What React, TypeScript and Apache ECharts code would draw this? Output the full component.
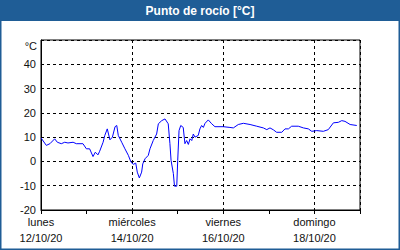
import React, { useEffect, useRef } from "react";
import * as echarts from "echarts";

// hours since Mon 12/10/20 00:00
const hours = [0, 2.8, 4.7, 7.2, 8.6, 10.7, 12.5, 14.2, 16.9, 18.6, 22.1, 23.9, 25.6, 27.4, 28.6, 30.0, 30.9, 32.7, 33.6, 34.9, 36.3, 37.6, 39.0, 39.9, 40.7, 42.5, 44.2, 46.0, 47.4, 48.6, 49.9, 50.7, 51.8, 53.0, 53.6, 54.8, 56.5, 57.4, 59.1, 60.9, 61.8, 63.6, 65.3, 67.0, 67.9, 68.5, 69.7, 70.3, 71.5, 72.0, 72.7, 73.6, 74.9, 75.8, 76.7, 77.6, 78.5, 79.4, 80.2, 81.1, 82.8, 83.7, 84.6, 85.5, 86.4, 88.1, 89.9, 91.6, 96.0, 99.5, 101.3, 103.9, 106.6, 110.1, 113.6, 117.1, 118.9, 120.6, 122.4, 124.1, 126.8, 128.5, 130.3, 132.0, 135.5, 138.2, 140.8, 142.6, 145.2, 148.7, 151.3, 154.0, 156.6, 158.4, 160.1, 162.8, 166.3];
const dewPoint = [9.7, 6.6, 7.3, 9.3, 7.9, 7.3, 7.9, 7.6, 7.9, 7.3, 7.3, 5.2, 5.2, 2.0, 3.8, 2.7, 4.2, 7.9, 10.7, 13.4, 8.9, 10.0, 14.3, 14.8, 10.7, 7.9, 5.2, 2.5, -0.3, -1.2, -0.7, -4.4, -6.8, -4.4, -1.0, 1.1, 2.5, 5.2, 8.6, 11.3, 15.5, 16.8, 17.5, 15.5, 7.3, 0.4, -5.0, -10.2, -10.2, 0.4, 12.7, 14.8, 14.0, 7.3, 8.6, 7.0, 9.3, 8.6, 11.3, 10.0, 10.7, 13.4, 14.8, 14.0, 15.7, 17.1, 15.5, 14.3, 14.3, 14.0, 13.8, 15.2, 15.7, 15.2, 14.5, 13.8, 13.1, 13.8, 13.0, 12.0, 12.0, 13.4, 13.4, 14.5, 14.5, 13.8, 13.4, 12.4, 12.7, 12.4, 13.1, 15.9, 16.1, 16.8, 16.5, 15.2, 14.8];

const dayNames = ["lunes", "martes", "miércoles", "jueves", "viernes", "sábado", "domingo", "lunes"];
const dayDates = ["12/10/20", "13/10/20", "14/10/20", "15/10/20", "16/10/20", "17/10/20", "18/10/20", "19/10/20"];
const title = "Punto de rocío [°C]";
const unit = "°C";

const FONT = "'Liberation Sans', Arial, sans-serif";
const BLUE = "#1f5d96";

export default function App() {
  const ref = useRef<HTMLDivElement>(null);
  useEffect(() => {
    if (!ref.current) return;
    const chart = echarts.init(ref.current, null, { renderer: "svg" });
    const data = hours.map((h, i) => [h, dewPoint[i]]);
    chart.setOption({
      animation: false,
      backgroundColor: "#ffffff",
      textStyle: { fontFamily: FONT },
      graphic: [
        { type: "rect", shape: { x: 0.5, y: 0.5, width: 399, height: 249 }, style: { fill: "none", stroke: BLUE, lineWidth: 2 }, z: 10 },
        { type: "rect", shape: { x: 0, y: 0, width: 400, height: 21 }, style: { fill: BLUE }, z: 10 },
        { type: "text", x: 200, y: 11, style: { text: title, fill: "#fff", font: "bold 12px " + FONT, textAlign: "center", textVerticalAlign: "middle" }, z: 11 },
        { type: "text", x: 37, y: 46, style: { text: unit, fill: "#111", font: "11px " + FONT, textAlign: "right", textVerticalAlign: "middle" }, z: 11 },
      ],
      grid: { left: 41, right: 40, top: 40, bottom: 40, show: true, borderColor: "#000", borderWidth: 1, backgroundColor: "transparent" },
      xAxis: [
        {
          type: "value", min: 0, max: 168, interval: 48, position: "bottom",
          axisLine: { show: true, onZero: false, lineStyle: { color: "#000", width: 1 } },
          axisTick: { show: false },
          axisLabel: {
            color: "#111", fontSize: 11, fontFamily: FONT, lineHeight: 16, margin: 4, showMaxLabel: false,
            formatter: (v: number) => {
              const d = Math.round(v / 24);
              if (v >= 168) return "";
              return dayNames[d] + "\n" + dayDates[d];
            },
          },
          splitLine: { show: true, lineStyle: { color: "#000", type: [3, 3], width: 1 } },
        },
        {
          type: "value", min: 0, max: 168, interval: 24, position: "bottom",
          axisLine: { show: false, onZero: false },
          axisTick: { show: true, length: 4, lineStyle: { color: "#000" } },
          axisLabel: { show: false },
          splitLine: { show: false },
        },
      ],
      yAxis: {
        type: "value", min: -20, max: 50, interval: 10,
        axisLine: { show: true, onZero: false, lineStyle: { color: "#000", width: 1 } },
        axisTick: { show: false },
        axisLabel: {
          color: "#111", fontSize: 11, fontFamily: FONT, margin: 5,
          formatter: (v: number) => (v >= 50 ? "" : String(v)),
        },
        splitLine: { show: true, lineStyle: { color: "#000", type: [3, 3], width: 1 } },
      },
      series: [
        {
          type: "line", xAxisIndex: 0, data, showSymbol: false, symbol: "none",
          lineStyle: { color: "#0000ff", width: 1 }, z: 5,
        },
      ],
    });
    return () => chart.dispose();
  }, []);
  return <div ref={ref} style={{ position: "absolute", left: 0, top: 0, width: 400, height: 250 }} />;
}
